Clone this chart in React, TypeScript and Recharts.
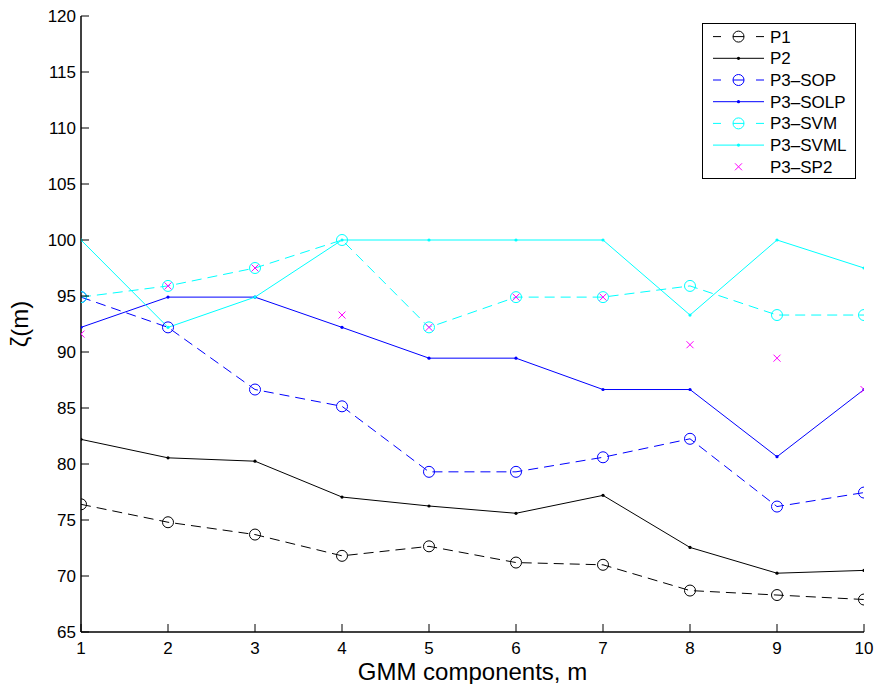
import React from "react";
import { LineChart, Line, XAxis, YAxis, Legend } from "recharts";

// GMM components (x axis)
const components = [1, 2, 3, 4, 5, 6, 7, 8, 9, 10];
const yTicks = [65, 70, 75, 80, 85, 90, 95, 100, 105, 110, 115, 120];

// series values
const p1 = [76.4, 74.8, 73.7, 71.8, 72.65, 71.2, 71.0, 68.7, 68.3, 67.9];
const p2 = [82.2, 80.55, 80.25, 77.05, 76.25, 75.6, 77.2, 72.55, 70.25, 70.5];
const p3Sop = [94.9, 92.2, 86.65, 85.15, 79.3, 79.3, 80.6, 82.25, 76.2, 77.45];
const p3Solp = [92.2, 94.9, 94.9, 92.2, 89.45, 89.45, 86.65, 86.65, 80.65, 86.65];
const p3Svm = [94.9, 95.9, 97.5, 100, 92.2, 94.9, 94.9, 95.9, 93.3, 93.3];
const p3Svml = [100, 92.2, 94.9, 100, 100, 100, 100, 93.3, 100, 97.5];
const p3Sp2 = [91.6, 95.9, 97.5, 93.3, 92.2, 94.9, 94.9, 90.65, 89.45, 86.65];

const rows = components.map((m, i) => ({
  m,
  p1: p1[i],
  p2: p2[i],
  sop: p3Sop[i],
  solp: p3Solp[i],
  svm: p3Svm[i],
  svml: p3Svml[i],
  sp2: p3Sp2[i],
}));

const FONT = "'Liberation Sans', Arial, Helvetica, sans-serif";
const TICK = 8;

const legendItems = [
  { name: "P1", color: "#000000", kind: "dashCircle" },
  { name: "P2", color: "#000000", kind: "solidDot" },
  { name: "P3\u2013SOP", color: "#0000ff", kind: "dashCircle" },
  { name: "P3\u2013SOLP", color: "#0000ff", kind: "solidDot" },
  { name: "P3\u2013SVM", color: "#00ffff", kind: "dashCircle" },
  { name: "P3\u2013SVML", color: "#00ffff", kind: "solidDot" },
  { name: "P3\u2013SP2", color: "#ff00ff", kind: "cross" },
];

const circleDot = (color: string, id: string) => (p: any) => (
  <circle key={`${id}-${p.index}`} cx={p.cx} cy={p.cy} r={5.5} fill="none" stroke={color} strokeWidth={1} />
);

const smallDot = (color: string, id: string) => (p: any) => (
  <circle key={`${id}-${p.index}`} cx={p.cx} cy={p.cy} r={1.6} fill={color} stroke="none" />
);

const crossDot = (color: string, id: string) => (p: any) => (
  <g key={`${id}-${p.index}`}>
    <line x1={p.cx - 3.5} y1={p.cy - 3.5} x2={p.cx + 3.5} y2={p.cy + 3.5} stroke={color} strokeWidth={1} />
    <line x1={p.cx - 3.5} y1={p.cy + 3.5} x2={p.cx + 3.5} y2={p.cy - 3.5} stroke={color} strokeWidth={1} />
  </g>
);

const BottomTick = (props: any) => {
  const { x, y, payload } = props;
  return (
    <g>
      <line x1={x} y1={y} x2={x} y2={y - TICK} stroke="#000" strokeWidth={1} />
      <text x={x} y={y + 22} textAnchor="middle" fontSize={17} fontFamily={FONT} fill="#000">
        {payload.value}
      </text>
    </g>
  );
};

const TopTick = (props: any) => {
  const { x, y } = props;
  return <line x1={x} y1={y} x2={x} y2={y + TICK} stroke="#000" strokeWidth={1} />;
};

const LeftTick = (props: any) => {
  const { x, y, payload } = props;
  return (
    <g>
      <line x1={x} y1={y} x2={x + TICK} y2={y} stroke="#000" strokeWidth={1} />
      <text x={x - 5} y={y + 6} textAnchor="end" fontSize={17} fontFamily={FONT} fill="#000">
        {payload.value}
      </text>
    </g>
  );
};

const RightTick = (props: any) => {
  const { x, y } = props;
  return <line x1={x} y1={y} x2={x - TICK} y2={y} stroke="#000" strokeWidth={1} />;
};

const LegendBox = () => {
  const rowH = 21.7;
  return (
    <svg width={154} height={156} style={{ display: "block" }}>
      <rect x={0.5} y={0.5} width={153} height={155} fill="#fff" stroke="#000" strokeWidth={1} />
      {legendItems.map((it, i) => {
        const cy = 13.6 + i * rowH;
        return (
          <g key={it.name}>
            {it.kind === "dashCircle" && (
              <g stroke={it.color} strokeWidth={1} fill="none">
                <line x1={11} y1={cy} x2={19} y2={cy} />
                <line x1={31} y1={cy} x2={42} y2={cy} />
                <line x1={54} y1={cy} x2={62} y2={cy} />
                <circle cx={36.5} cy={cy} r={5.5} />
              </g>
            )}
            {it.kind === "solidDot" && (
              <g>
                <line x1={11} y1={cy} x2={62} y2={cy} stroke={it.color} strokeWidth={1} />
                <circle cx={36.5} cy={cy} r={1.6} fill={it.color} />
              </g>
            )}
            {it.kind === "cross" && (
              <g stroke={it.color} strokeWidth={1}>
                <line x1={33} y1={cy - 3.5} x2={40} y2={cy + 3.5} />
                <line x1={33} y1={cy + 3.5} x2={40} y2={cy - 3.5} />
              </g>
            )}
            <text x={68} y={cy + 6} fontSize={17} fontFamily={FONT} fill="#000">
              {it.name}
            </text>
          </g>
        );
      })}
    </svg>
  );
};

export default function App() {
  return (
    <div style={{ position: "absolute", left: 0, top: 0, background: "#fff" }}>
      <LineChart width={876} height={684} data={rows} margin={{ top: 16, right: 12, bottom: 0, left: 0 }}>
        <XAxis
          dataKey="m"
          type="number"
          domain={[1, 10]}
          ticks={components}
          allowDataOverflow
          height={52}
          tickLine={false}
          tickSize={0}
          tickMargin={0}
          tick={<BottomTick />}
          axisLine={{ stroke: "#000", strokeWidth: 1.5 }}
          label={() => (
            <text x={472.5} y={680} textAnchor="middle" fontSize={24} fontFamily={FONT} fill="#000">
              GMM components, m
            </text>
          )}
        />
        <XAxis
          xAxisId="top"
          orientation="top"
          dataKey="m"
          type="number"
          domain={[1, 10]}
          ticks={components}
          allowDataOverflow
          height={0}
          tickLine={false}
          tickSize={0}
          tickMargin={0}
          tick={<TopTick />}
          axisLine={{ stroke: "#000", strokeWidth: 1.5 }}
        />
        <YAxis
          type="number"
          domain={[65, 120]}
          ticks={yTicks}
          allowDataOverflow
          width={81}
          tickLine={false}
          tickSize={0}
          tickMargin={0}
          tick={<LeftTick />}
          axisLine={{ stroke: "#000", strokeWidth: 1.5 }}
          label={() => (
            <text
              transform="translate(28,324) rotate(-90)"
              textAnchor="middle"
              fontSize={24}
              fontFamily={FONT}
              fill="#000"
            >
              ζ(m)
            </text>
          )}
        />
        <YAxis
          yAxisId="right"
          orientation="right"
          type="number"
          domain={[65, 120]}
          ticks={yTicks}
          allowDataOverflow
          width={0}
          tickLine={false}
          tickSize={0}
          tickMargin={0}
          tick={<RightTick />}
          axisLine={{ stroke: "#000", strokeWidth: 1.5 }}
        />
        <Line dataKey="p1" stroke="#000000" strokeWidth={1} strokeDasharray="10 6" dot={circleDot("#000000", "p1")} activeDot={false} isAnimationActive={false} />
        <Line dataKey="p2" stroke="#000000" strokeWidth={1} dot={smallDot("#000000", "p2")} activeDot={false} isAnimationActive={false} />
        <Line dataKey="sop" stroke="#0000ff" strokeWidth={1} strokeDasharray="10 6" dot={circleDot("#0000ff", "sop")} activeDot={false} isAnimationActive={false} />
        <Line dataKey="solp" stroke="#0000ff" strokeWidth={1} dot={smallDot("#0000ff", "solp")} activeDot={false} isAnimationActive={false} />
        <Line dataKey="svm" stroke="#00ffff" strokeWidth={1} strokeDasharray="10 6" dot={circleDot("#00ffff", "svm")} activeDot={false} isAnimationActive={false} />
        <Line dataKey="svml" stroke="#00ffff" strokeWidth={1} dot={smallDot("#00ffff", "svml")} activeDot={false} isAnimationActive={false} />
        <Line dataKey="sp2" stroke="none" dot={crossDot("#ff00ff", "sp2")} activeDot={false} isAnimationActive={false} />
        <Legend
          layout="vertical"
          align="center"
          verticalAlign="middle"
          content={() => <LegendBox />}
          wrapperStyle={{ left: 702, top: 23, width: 154, height: 156 }}
        />
      </LineChart>
    </div>
  );
}
